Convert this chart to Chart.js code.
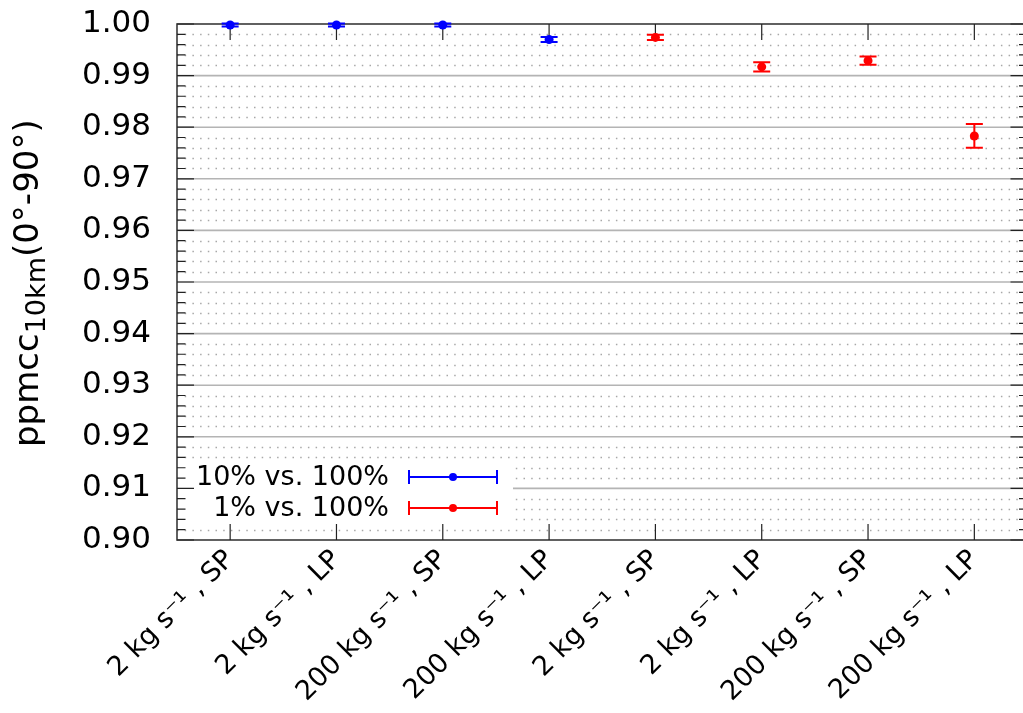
<!DOCTYPE html>
<html>
<head>
<meta charset="utf-8">
<script src="https://cdn.jsdelivr.net/npm/chart.js@4/dist/chart.umd.min.js"></script>
<style>
  html, body { margin: 0; padding: 0; background: #fff; overflow: hidden; }
  #wrap { width: 1032px; height: 713px; }
</style>
</head>
<body>
<div id="wrap"><canvas id="chart"></canvas></div>
<script>
// run labels along the x axis
const categories = [
  '2 kg s\u207B\u00B9 , SP', '2 kg s\u207B\u00B9 , LP',
  '200 kg s\u207B\u00B9 , SP', '200 kg s\u207B\u00B9 , LP',
  '2 kg s\u207B\u00B9 , SP', '2 kg s\u207B\u00B9 , LP',
  '200 kg s\u207B\u00B9 , SP', '200 kg s\u207B\u00B9 , LP'
];
const yTicks = [0.90, 0.91, 0.92, 0.93, 0.94, 0.95, 0.96, 0.97, 0.98, 0.99, 1.00];
const seriesNames = ['10% vs. 100%', '1% vs. 100%'];

// correlation and its spread for each resolution pair
const tenPctValues = [0.9998, 0.9998, 0.9998, 0.9970, null, null, null, null];
const tenPctErrors = [0.0003, 0.0003, 0.0003, 0.0005, null, null, null, null];
const onePctValues = [null, null, null, null, 0.9974, 0.9917, 0.9929, 0.9783];
const onePctErrors = [null, null, null, null, 0.0005, 0.0009, 0.0008, 0.0023];

const BLUE = '#0000ff';
const RED = '#ff0000';
const FONT = 'DejaVu Sans';

function hLine(ctx, x1, x2, y) {
  ctx.beginPath();
  ctx.moveTo(x1, y);
  ctx.lineTo(x2, y);
  ctx.stroke();
}

function drawErrBar(ctx, x, yLo, yHi, color) {
  ctx.save();
  ctx.strokeStyle = color;
  ctx.lineWidth = 2;
  ctx.beginPath();
  ctx.moveTo(x, yLo); ctx.lineTo(x, yHi);
  ctx.moveTo(x - 8.5, yLo); ctx.lineTo(x + 8.5, yLo);
  ctx.moveTo(x - 8.5, yHi); ctx.lineTo(x + 8.5, yHi);
  ctx.stroke();
  ctx.restore();
}

// grid, frame, inward ticks and the boxed key
const framePlugin = {
  id: 'frame',
  beforeDatasetsDraw(chart) {
    const ctx = chart.ctx;
    const a = chart.chartArea;
    const ys = chart.scales.y;
    const xs = chart.scales.x;
    ctx.save();

    // minor dotted lines every 0.002
    ctx.strokeStyle = '#a8a8a8';
    ctx.lineWidth = 1.5;
    ctx.setLineDash([1.5, 6.2]);
    for (let i = 0; i < yTicks.length - 1; i++) {
      for (let k = 1; k < 5; k++) {
        const y = Math.round(ys.getPixelForValue(yTicks[i] + k * 0.002)) + 0.5;
        hLine(ctx, a.left, a.right, y);
      }
    }
    ctx.setLineDash([]);

    // major solid lines
    ctx.strokeStyle = '#b4b4b4';
    ctx.lineWidth = 1.6;
    yTicks.slice(1, -1).forEach(v => {
      hLine(ctx, a.left, a.right, ys.getPixelForValue(v));
    });

    // opaque key box
    ctx.fillStyle = '#fff';
    ctx.fillRect(a.left, 461, 336, 61);

    // frame
    ctx.strokeStyle = '#3a3a3a';
    ctx.lineWidth = 1.6;
    ctx.strokeRect(a.left, a.top, a.right - a.left, a.bottom - a.top);

    // y ticks on both sides
    ctx.strokeStyle = '#222';
    ctx.lineWidth = 1.2;
    ctx.beginPath();
    for (let i = 0; i < yTicks.length; i++) {
      const y = ys.getPixelForValue(yTicks[i]);
      ctx.moveTo(a.left, y); ctx.lineTo(a.left + 17, y);
      ctx.moveTo(a.right, y); ctx.lineTo(a.right - 17, y);
      if (i < yTicks.length - 1) {
        for (let k = 1; k < 5; k++) {
          const ym = ys.getPixelForValue(yTicks[i] + k * 0.002);
          ctx.moveTo(a.left, ym); ctx.lineTo(a.left + 8.5, ym);
          ctx.moveTo(a.right, ym); ctx.lineTo(a.right - 8.5, ym);
        }
      }
    }
    // x ticks top and bottom
    categories.forEach((c, i) => {
      const x = xs.getPixelForValue(i);
      ctx.moveTo(x, a.bottom); ctx.lineTo(x, a.bottom - 16);
      ctx.moveTo(x, a.top); ctx.lineTo(x, a.top + 16);
    });
    ctx.stroke();

    // key entries
    const rows = [[seriesNames[0], BLUE, 477], [seriesNames[1], RED, 508]];
    ctx.font = '27px ' + FONT;
    ctx.textAlign = 'right';
    ctx.textBaseline = 'middle';
    rows.forEach(([name, color, y]) => {
      ctx.fillStyle = '#000';
      ctx.fillText(name, 389, y + 1);
      ctx.strokeStyle = color;
      ctx.lineWidth = 2;
      ctx.beginPath();
      ctx.moveTo(409, y); ctx.lineTo(497, y);
      ctx.moveTo(409, y - 7); ctx.lineTo(409, y + 7);
      ctx.moveTo(497, y - 7); ctx.lineTo(497, y + 7);
      ctx.stroke();
      ctx.fillStyle = color;
      ctx.beginPath();
      ctx.arc(453, y, 4, 0, Math.PI * 2);
      ctx.fill();
    });

    ctx.restore();
  },
  afterDatasetsDraw(chart) {
    const ctx = chart.ctx;
    const ys = chart.scales.y;
    chart.data.datasets.forEach((ds, di) => {
      const meta = chart.getDatasetMeta(di);
      ds.data.forEach((v, i) => {
        if (v === null) return;
        const e = ds.errors[i];
        drawErrBar(ctx, meta.data[i].x, ys.getPixelForValue(v - e), ys.getPixelForValue(v + e), ds.borderColor);
      });
    });
  },
  afterDraw(chart) {
    // y axis title with subscript
    const ctx = chart.ctx;
    ctx.save();
    ctx.translate(38, 447);
    ctx.rotate(-Math.PI / 2);
    ctx.fillStyle = '#000';
    ctx.textAlign = 'left';
    ctx.textBaseline = 'alphabetic';
    ctx.font = '34px ' + FONT;
    let x = 0;
    ctx.fillText('ppmcc', x, 0);
    x += ctx.measureText('ppmcc').width;
    ctx.font = '27px ' + FONT;
    ctx.fillText('10km', x, 7);
    x += ctx.measureText('10km').width;
    ctx.font = '34px ' + FONT;
    ctx.fillText('(0\u00B0-90\u00B0)', x, 0);
    ctx.restore();
  }
};

const ctx = document.getElementById('chart').getContext('2d');
new Chart(ctx, {
  type: 'line',
  data: {
    labels: categories,
    datasets: [
      {
        label: seriesNames[0],
        data: tenPctValues,
        errors: tenPctErrors,
        borderColor: BLUE,
        backgroundColor: BLUE,
        showLine: false,
        pointRadius: 4.5,
        pointBorderWidth: 0,
        clip: false
      },
      {
        label: seriesNames[1],
        data: onePctValues,
        errors: onePctErrors,
        borderColor: RED,
        backgroundColor: RED,
        showLine: false,
        pointRadius: 4.5,
        pointBorderWidth: 0,
        clip: false
      }
    ]
  },
  options: {
    responsive: true,
    maintainAspectRatio: false,
    animation: false,
    devicePixelRatio: 1,
    layout: { padding: { top: 24, right: 2, left: 0, bottom: 0 } },
    plugins: { legend: { display: false }, tooltip: { enabled: false } },
    scales: {
      x: {
        type: 'category',
        offset: true,
        grid: { display: false, drawTicks: false },
        border: { display: false },
        ticks: {
          autoSkip: false,
          maxRotation: 45,
          minRotation: 45,
          padding: 4,
          color: '#000',
          font: { family: FONT, size: 27 }
        },
        afterFit: s => { s.height = 173; }
      },
      y: {
        min: 0.9,
        max: 1.0,
        grid: { display: false, drawTicks: false },
        border: { display: false },
        afterBuildTicks: s => { s.ticks = yTicks.map(v => ({ value: v })); },
        ticks: {
          padding: 26,
          color: '#000',
          font: { family: FONT, size: 31 },
          callback: v => v.toFixed(2)
        },
        afterFit: s => {
          s.width = 177;
          // the tick padding is meant sideways only
          s.paddingTop = 0;
          s.paddingBottom = 0;
        }
      }
    }
  },
  plugins: [framePlugin]
});
</script>
</body>
</html>
